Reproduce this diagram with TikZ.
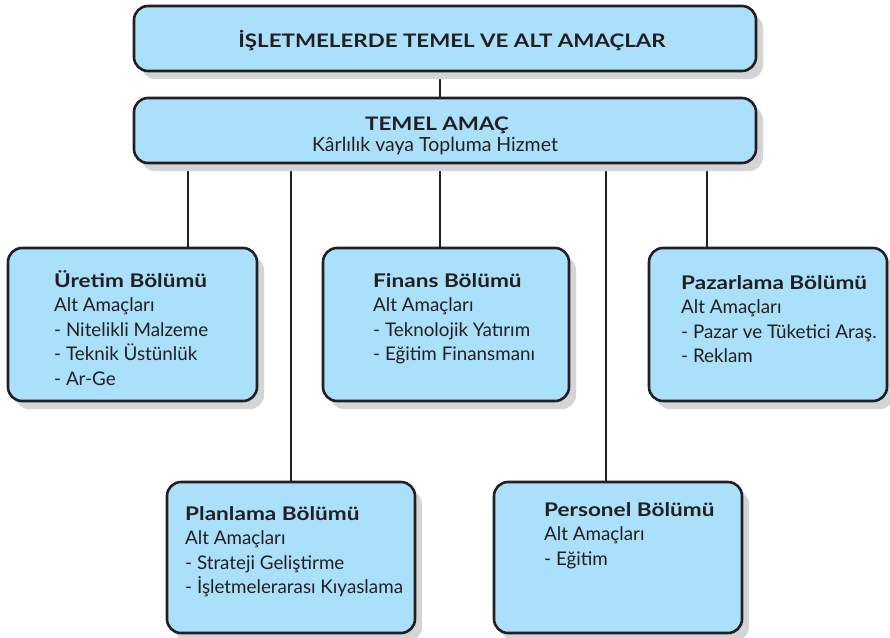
\documentclass[tikz,border=0pt]{standalone}
\usepackage{fontspec}
\setmainfont{Lato}
\newfontfamily\ttlfont{Lato}[FakeStretch=1.2]
\usetikzlibrary{shadows,backgrounds}
\definecolor{boxblue}{RGB}{170,224,249}
\definecolor{shadowgray}{RGB}{211,212,214}
\definecolor{linecol}{RGB}{35,31,32}
\newcommand{\ttl}[1]{{\ttlfont\bfseries #1}}
\tikzset{
  orgbox/.style={draw=linecol, line width=2.6pt, fill=boxblue, rounded corners=14pt,
    inner sep=0pt, drop shadow={shadow xshift=7pt, shadow yshift=-8pt, fill=shadowgray, opacity=1}},
  conn/.style={draw=linecol, line width=2.6pt},
  bodytxt/.style={anchor=north west, align=left, inner sep=0pt, text=linecol,
    font=\fontsize{18.8}{24.5}\selectfont},
  headtxt/.style={anchor=base, inner sep=0pt, text=linecol, font=\fontsize{18.6}{22}\selectfont\ttlfont\bfseries},
}
\begin{document}
\begin{tikzpicture}[x=1pt,y=-1pt]
\useasboundingbox (0,0) rectangle (890,637);
% boxes
\node[orgbox, minimum width=622pt, minimum height=65pt] (top) at (445,38.5) {};
\node[orgbox, minimum width=622pt, minimum height=65pt] (temel) at (445,130.5) {};
\node[orgbox, minimum width=249pt, minimum height=153pt] (uretim) at (132.5,324.5) {};
\node[orgbox, minimum width=246pt, minimum height=153pt] (finans) at (446,324.5) {};
\node[orgbox, minimum width=238pt, minimum height=153pt] (pazar) at (768,324.5) {};
\node[orgbox, minimum width=248pt, minimum height=151pt] (planlama) at (291,557.5) {};
\node[orgbox, minimum width=248pt, minimum height=151pt] (personel) at (618,557.5) {};
% connector x positions
\coordinate (c0) at (440,0);
\coordinate (c1) at (188,0);
\coordinate (c2) at (291,0);
\coordinate (c3) at (440,0);
\coordinate (c4) at (606,0);
\coordinate (c5) at (707,0);
\begin{pgfonlayer}{background}
\draw[conn] (c0 |- top.south) -- (c0 |- temel.north);
\draw[conn] (c1 |- temel.south) -- (c1 |- uretim.north);
\draw[conn] (c2 |- temel.south) -- (c2 |- planlama.north);
\draw[conn] (c3 |- temel.south) -- (c3 |- finans.north);
\draw[conn] (c4 |- temel.south) -- (c4 |- personel.north);
\draw[conn] (c5 |- temel.south) -- (c5 |- pazar.north);
\end{pgfonlayer}
% texts
\node[headtxt] (toptxt) at (452,47) {İŞLETMELERDE TEMEL VE ALT AMAÇLAR};
\node[headtxt] (temeltxt) at (437,130) {TEMEL AMAÇ};
\node[anchor=base, inner sep=0pt, text=linecol, font=\fontsize{19.5}{22}\selectfont] (temelsub) at (435,151) {Kârlılık vaya Topluma Hizmet};
\node[bodytxt] (uretimtxt) at (54,270) {\strut\ttl{Üretim Bölümü}\\Alt Amaçları\\- Nitelikli Malzeme\\- Teknik Üstünlük\\- Ar-Ge};
\node[bodytxt] (finanstxt) at (373,270) {\strut\ttl{Finans Bölümü}\\Alt Amaçları\\- Teknolojik Yatırım\\- Eğitim Finansmanı};
\node[bodytxt] (pazartxt) at (681,272) {\strut\ttl{Pazarlama Bölümü}\\Alt Amaçları\\- Pazar ve Tüketici Araş.\\- Reklam};
\node[bodytxt] (planlamatxt) at (185,503) {\strut\ttl{Planlama Bölümü}\\Alt Amaçları\\- Strateji Geliştirme\\- İşletmelerarası Kıyaslama};
\node[bodytxt] (personeltxt) at (544,499) {\strut\ttl{Personel Bölümü}\\Alt Amaçları\\- Eğitim};
\end{tikzpicture}
\end{document}
